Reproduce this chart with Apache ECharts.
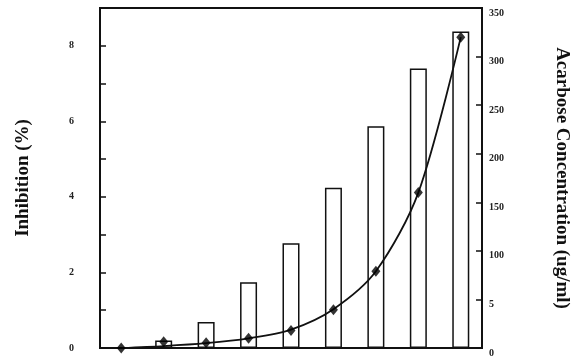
<!DOCTYPE html>
<html>
<head>
<meta charset="utf-8">
<script src="https://cdn.jsdelivr.net/npm/echarts@6/dist/echarts.min.js"></script>
<style>
html,body{margin:0;padding:0;background:#fff;}
#chart{width:581px;height:363px;}
</style>
</head>
<body>
<div id="chart"></div>
<script>
var categories = ['1','2','3','4','5','6','7','8','9'];
var inhibitionBars = [0, 0.20, 0.69, 1.74, 2.77, 4.24, 5.87, 7.40, 8.38];
var concentrationCurve = [0, 2, 5, 10, 19, 40, 79, 160, 320];
var concentrationPoints = [0, 6.5, 5.5, 10, 18, 39.5, 79, 160, 320];
var leftTicks = ['0','2','4','6','8'];
var rightTicks = ['0','5','100','150','200','250','300','350'];

var chart = echarts.init(document.getElementById('chart'));
var font = 'Liberation Serif';
chart.setOption({
  backgroundColor: '#fff',
  animation: false,
  grid: {left: 100, right: 99, top: 8, bottom: 15, show: true, borderColor: '#111', borderWidth: 2},
  xAxis: {
    type: 'category', data: categories, boundaryGap: true,
    axisLine: {lineStyle: {color: '#111', width: 2}},
    axisTick: {inside: true, length: 4, lineStyle: {color: '#111', width: 1.5}},
    axisLabel: {show: false}
  },
  yAxis: [{
    type: 'value', min: 0, max: 9, interval: 1, position: 'left',
    name: 'Inhibition (%)', nameLocation: 'middle', nameRotate: 90, nameGap: 67,
    nameTextStyle: {fontFamily: font, fontWeight: 'bold', fontSize: 19, color: '#111'},
    axisLine: {show: true, lineStyle: {color: '#111', width: 2}},
    axisTick: {show: true, inside: true, length: 6, lineStyle: {color: '#111', width: 1.5}},
    splitLine: {show: false},
    axisLabel: {
      margin: 26, fontFamily: font, fontWeight: 'bold', fontSize: 10, color: '#222',
      showMaxLabel: false,
      formatter: function (v) { return leftTicks.indexOf(String(v)) >= 0 ? String(v) : ''; }
    }
  }, {
    type: 'value', min: 0, max: 350, interval: 50, position: 'right',
    name: 'Acarbose Concentration (ug/ml)', nameLocation: 'middle', nameRotate: -90, nameGap: 70,
    nameTextStyle: {fontFamily: font, fontWeight: 'bold', fontSize: 19, color: '#111'},
    axisLine: {show: true, lineStyle: {color: '#111', width: 2}},
    axisTick: {show: true, inside: true, length: 6, lineStyle: {color: '#111', width: 1.5}},
    splitLine: {show: false},
    axisLabel: {
      margin: 7, fontFamily: font, fontWeight: 'bold', fontSize: 10, color: '#222',
      verticalAlign: 'top',
      formatter: function (v) { var i = Math.round(v / 50); return rightTicks[i] !== undefined ? rightTicks[i] : ''; }
    }
  }],
  series: [{
    type: 'bar', yAxisIndex: 0, data: inhibitionBars, barWidth: 17,
    itemStyle: {color: '#fff', borderColor: '#111', borderWidth: 1.5},
    z: 2
  }, {
    type: 'line', yAxisIndex: 1, data: concentrationCurve, smooth: 0.3,
    symbol: 'none', lineStyle: {color: '#111', width: 1.8}, z: 3
  }, {
    type: 'scatter', yAxisIndex: 1, data: concentrationPoints,
    symbol: 'diamond', symbolSize: [9, 11],
    itemStyle: {color: '#000'}, z: 4
  }]
});
</script>
</body>
</html>
